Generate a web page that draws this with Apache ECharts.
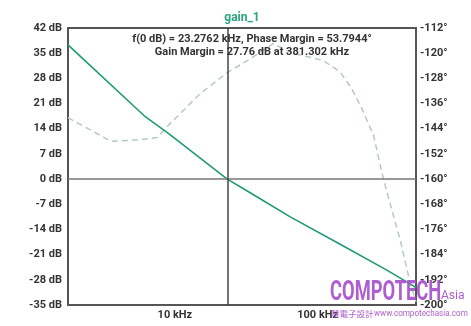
<!DOCTYPE html>
<html>
<head>
<meta charset="utf-8">
<script src="https://cdn.jsdelivr.net/npm/echarts@6/dist/echarts.min.js"></script>
<style>html,body{margin:0;padding:0;background:#fff}#c{width:471px;height:326px}</style>
</head>
<body>
<div id="c"></div>
<script>
// Frequencies in kHz
var gainFreq = [1.785, 6.1, 9.0, 23.2762, 33.7, 64.2, 143.7, 305, 468, 488];
var gainDb   = [37.3, 17.6, 12.7, 0, -3.8, -10.5, -18.1, -25.3, -29.7, -30.2];
var phaseFreq = [1.785, 3.0, 3.55, 5.7, 7.5, 9.3, 15.1, 23.2762, 33.7, 48.8, 67, 109, 144, 173, 204, 246, 288, 381.302, 444, 488];
var phaseDeg  = [-140.5, -146.1, -148.0, -147.5, -146.8, -142.3, -132.8, -126.2, -121.8, -117.0, -120.0, -122.3, -126.0, -131.3, -137.6, -146.1, -159.8, -180, -193, -199];
var xTickLabels = {10: '10 kHz', 100: '100 kHz'};
var crossoverFreq = 23.2762;
var titleText = 'gain_1';
var noteLine1 = 'f(0 dB) = 23.2762 kHz, Phase Margin = 53.7944°';
var noteLine2 = 'Gain Margin = 27.76 dB at 381.302 kHz';

function zip(a, b) { return a.map(function (v, i) { return [v, b[i]]; }); }

var chart = echarts.init(document.getElementById('c'));
var lblStyle = { color: '#333', fontFamily: 'Roboto', fontWeight: 'bold', fontSize: 11 };
var wm = 'rgba(168,80,204,0.92)';
chart.setOption({
  animation: false,
  grid: { left: 68, right: 55, top: 28, bottom: 21, show: true, borderColor: '#555', borderWidth: 2, backgroundColor: 'transparent' },
  xAxis: {
    type: 'log', logBase: 10, min: 1.785, max: 488,
    axisLine: { show: false }, axisTick: { show: false }, splitLine: { show: false },
    axisLabel: Object.assign({}, lblStyle, {
      margin: 5, showMinLabel: false, showMaxLabel: false,
      formatter: function (v) { var r = Math.round(v); return (Math.abs(v - r) < 1e-6 && xTickLabels[r]) ? xTickLabels[r] : ''; }
    })
  },
  yAxis: [{
    type: 'value', min: -35, max: 42, interval: 7, position: 'left',
    axisLine: { show: false }, axisTick: { show: false }, splitLine: { show: false },
    axisLabel: Object.assign({}, lblStyle, { margin: 6, formatter: '{value} dB' })
  }, {
    type: 'value', min: -200, max: -112, interval: 8, position: 'right',
    axisLine: { show: false }, axisTick: { show: false }, splitLine: { show: false },
    axisLabel: Object.assign({}, lblStyle, { margin: 4, formatter: '{value}°' })
  }],
  series: [{
    type: 'line', yAxisIndex: 1, data: zip(phaseFreq, phaseDeg), showSymbol: false, z: 2,
    lineStyle: { color: '#b3cac3', width: 1.5, type: [6, 4] }
  }, {
    type: 'line', yAxisIndex: 0, data: zip(gainFreq, gainDb), showSymbol: false, z: 3,
    lineStyle: { color: '#1f9b74', width: 1.6 },
    markLine: {
      silent: true, symbol: 'none', label: { show: false },
      data: [
        { yAxis: 0, lineStyle: { color: '#777', width: 1.5, type: 'solid' } },
        { xAxis: crossoverFreq, lineStyle: { color: '#444', width: 1.5, type: 'solid' } }
      ]
    }
  }],
  graphic: [
    { type: 'text', x: 242, y: 18, style: { text: titleText, fill: '#2aa57d', font: 'bold 12px Roboto', textAlign: 'center', textVerticalAlign: 'middle' } },
    { type: 'text', x: 252, y: 39, z: 10, style: { text: noteLine1, fill: '#333', font: 'bold 11px Roboto', textAlign: 'center', textVerticalAlign: 'middle' } },
    { type: 'text', x: 252, y: 52, z: 10, style: { text: noteLine2, fill: '#333', font: 'bold 11px Roboto', textAlign: 'center', textVerticalAlign: 'middle' } },
    { type: 'text', x: 330, y: 293, z: 20, scaleX: 0.68, style: { text: 'COMPOTECH', fill: wm, font: 'bold 27px Roboto', textAlign: 'left', textVerticalAlign: 'middle' } },
    { type: 'text', x: 441, y: 296, z: 20, style: { text: 'Asia', fill: wm, font: '12px Roboto', textAlign: 'left', textVerticalAlign: 'middle' } },
    { type: 'text', x: 331, y: 314, z: 20, style: { text: '慧電子設計', fill: wm, font: '8.5px "Noto Sans CJK TC"', textAlign: 'left', textVerticalAlign: 'middle' } },
    { type: 'text', x: 374, y: 314, z: 20, scaleX: 0.9, style: { text: 'www.compotechasia.com', fill: wm, font: '9px Roboto', textAlign: 'left', textVerticalAlign: 'middle' } }
  ]
});
</script>
</body>
</html>
